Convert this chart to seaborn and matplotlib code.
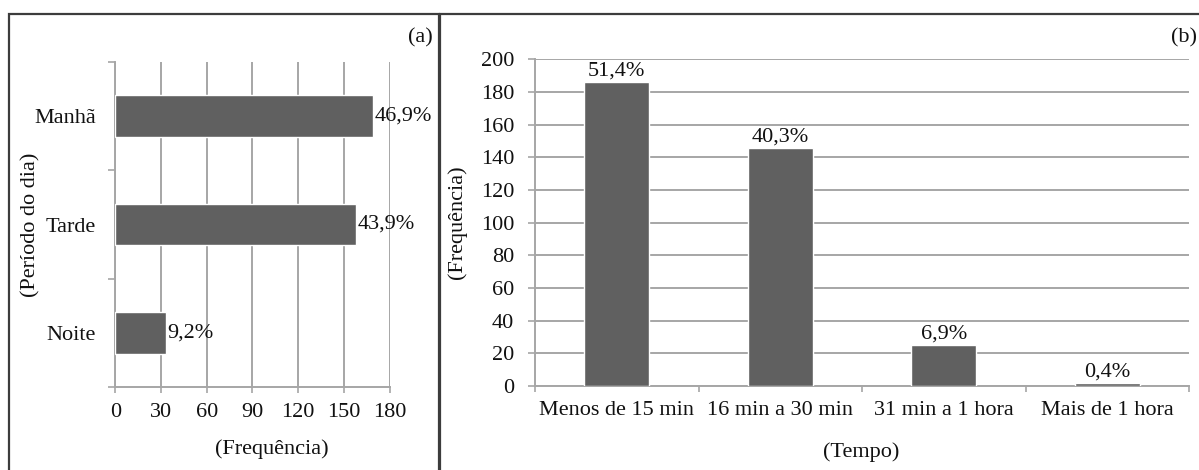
import pandas as pd
import seaborn as sns
import matplotlib.pyplot as plt
from matplotlib.patches import Rectangle

# dados
periodo = ['Manhã', 'Tarde', 'Noite']
freq_periodo = [169, 158, 33]
pct_periodo = ['46,9%', '43,9%', '9,2%']

tempo = ['Menos de 15 min', '16 min a 30 min', '31 min a 1 hora', 'Mais de 1 hora']
freq_tempo = [186, 146, 25, 2]
pct_tempo = ['51,4%', '40,3%', '6,9%', '0,4%']

bar_col = '#606060'
grid_col = '#a6a6a6'
fs = 16

sns.set_theme(style='white')
plt.rcParams['font.family'] = ['Liberation Serif', 'DejaVu Serif']
plt.rcParams['text.color'] = '#111111'
plt.rcParams['axes.labelcolor'] = '#111111'
plt.rcParams['xtick.color'] = '#111111'
plt.rcParams['ytick.color'] = '#111111'

W, H = 1199, 470
fig = plt.figure(figsize=(W / 100, H / 100), dpi=100)
fig.patch.set_facecolor('white')

ax1 = fig.add_axes([115.3 / W, 1 - 387.3 / H, 274.4 / W, 325.6 / H])
ax2 = fig.add_axes([535 / W, 1 - 386 / H, 654 / W, 326.7 / H])

df_a = pd.DataFrame({'periodo': periodo, 'freq': freq_periodo})
df_b = pd.DataFrame({'tempo': tempo, 'freq': freq_tempo})

# (a) periodo do dia
sns.barplot(data=df_a, x='freq', y='periodo', orient='h', color=bar_col,
            saturation=1, width=0.38, ax=ax1, zorder=3)
ax1.set_xlim(0, 180)
ax1.set_xticks(range(0, 181, 30))
ax1.set_ylim(2.5, -0.5)
ax1.xaxis.grid(True, color=grid_col, lw=1.4, zorder=0)
ax1.set_axisbelow(True)
ax1.set_yticks([-0.5, 0.5, 1.5, 2.5], minor=True)
ax1.tick_params(axis='y', which='major', length=0, pad=14, labelsize=fs)
ax1.tick_params(axis='y', which='minor', length=5, width=1.2, color=grid_col, left=True)
ax1.tick_params(axis='x', which='major', length=4, width=1.2, color=grid_col,
                bottom=True, pad=7.5, labelsize=fs)
for s in ['top', 'right']:
    ax1.spines[s].set_visible(False)
for s in ['left', 'bottom']:
    ax1.spines[s].set_color(grid_col)
    ax1.spines[s].set_linewidth(1.4)
ax1.bar_label(ax1.containers[0], labels=pct_periodo, padding=1, fontsize=fs)
ax1.set_xlabel('(Frequência)', fontsize=fs)
ax1.set_ylabel('(Período do dia)', fontsize=fs)
ax1.xaxis.set_label_coords(0.571, -0.16)
ax1.yaxis.set_label_coords(-0.272, 0.5)

# (b) tempo
sns.barplot(data=df_b, x='tempo', y='freq', color=bar_col, saturation=1,
            width=0.4, ax=ax2, zorder=3)
ax2.set_ylim(0, 200)
ax2.set_yticks(range(0, 201, 20))
ax2.set_xlim(-0.5, 3.5)
ax2.yaxis.grid(True, color=grid_col, lw=1.4, zorder=0)
ax2.set_axisbelow(True)
ax2.set_xticks([-0.5, 0.5, 1.5, 2.5, 3.5], minor=True)
ax2.tick_params(axis='x', which='major', length=0, pad=10.5, labelsize=fs)
ax2.tick_params(axis='x', which='minor', length=4.5, width=1.2, color=grid_col, bottom=True)
ax2.tick_params(axis='y', which='major', length=5, width=1.2, color=grid_col,
                left=True, pad=10, labelsize=fs)
for s in ['top', 'right']:
    ax2.spines[s].set_visible(False)
for s in ['left', 'bottom']:
    ax2.spines[s].set_color(grid_col)
    ax2.spines[s].set_linewidth(1.4)
ax2.bar_label(ax2.containers[0], labels=pct_tempo, padding=1, fontsize=fs)
ax2.set_xlabel('(Tempo)', fontsize=fs)
ax2.set_ylabel('(Frequência)', fontsize=fs)
ax2.xaxis.set_label_coords(0.498, -0.172)
ax2.yaxis.set_label_coords(-0.104, 0.5)

# molduras dos paineis
fig.add_artist(Rectangle((9 / W, -0.1), 430 / W, 1.1 - 14 / H, transform=fig.transFigure,
                         fill=False, ec='#3c3c3c', lw=1.6))
fig.add_artist(Rectangle((440 / W, -0.1), 1.0, 1.1 - 14 / H, transform=fig.transFigure,
                         fill=False, ec='#3c3c3c', lw=1.6))

fig.text(433 / W, 1 - 38 / H, '(a)', ha='right', va='center', fontsize=fs)
fig.text(1197 / W, 1 - 38 / H, '(b)', ha='right', va='center', fontsize=fs)

fig.savefig('out.png', dpi=100)
